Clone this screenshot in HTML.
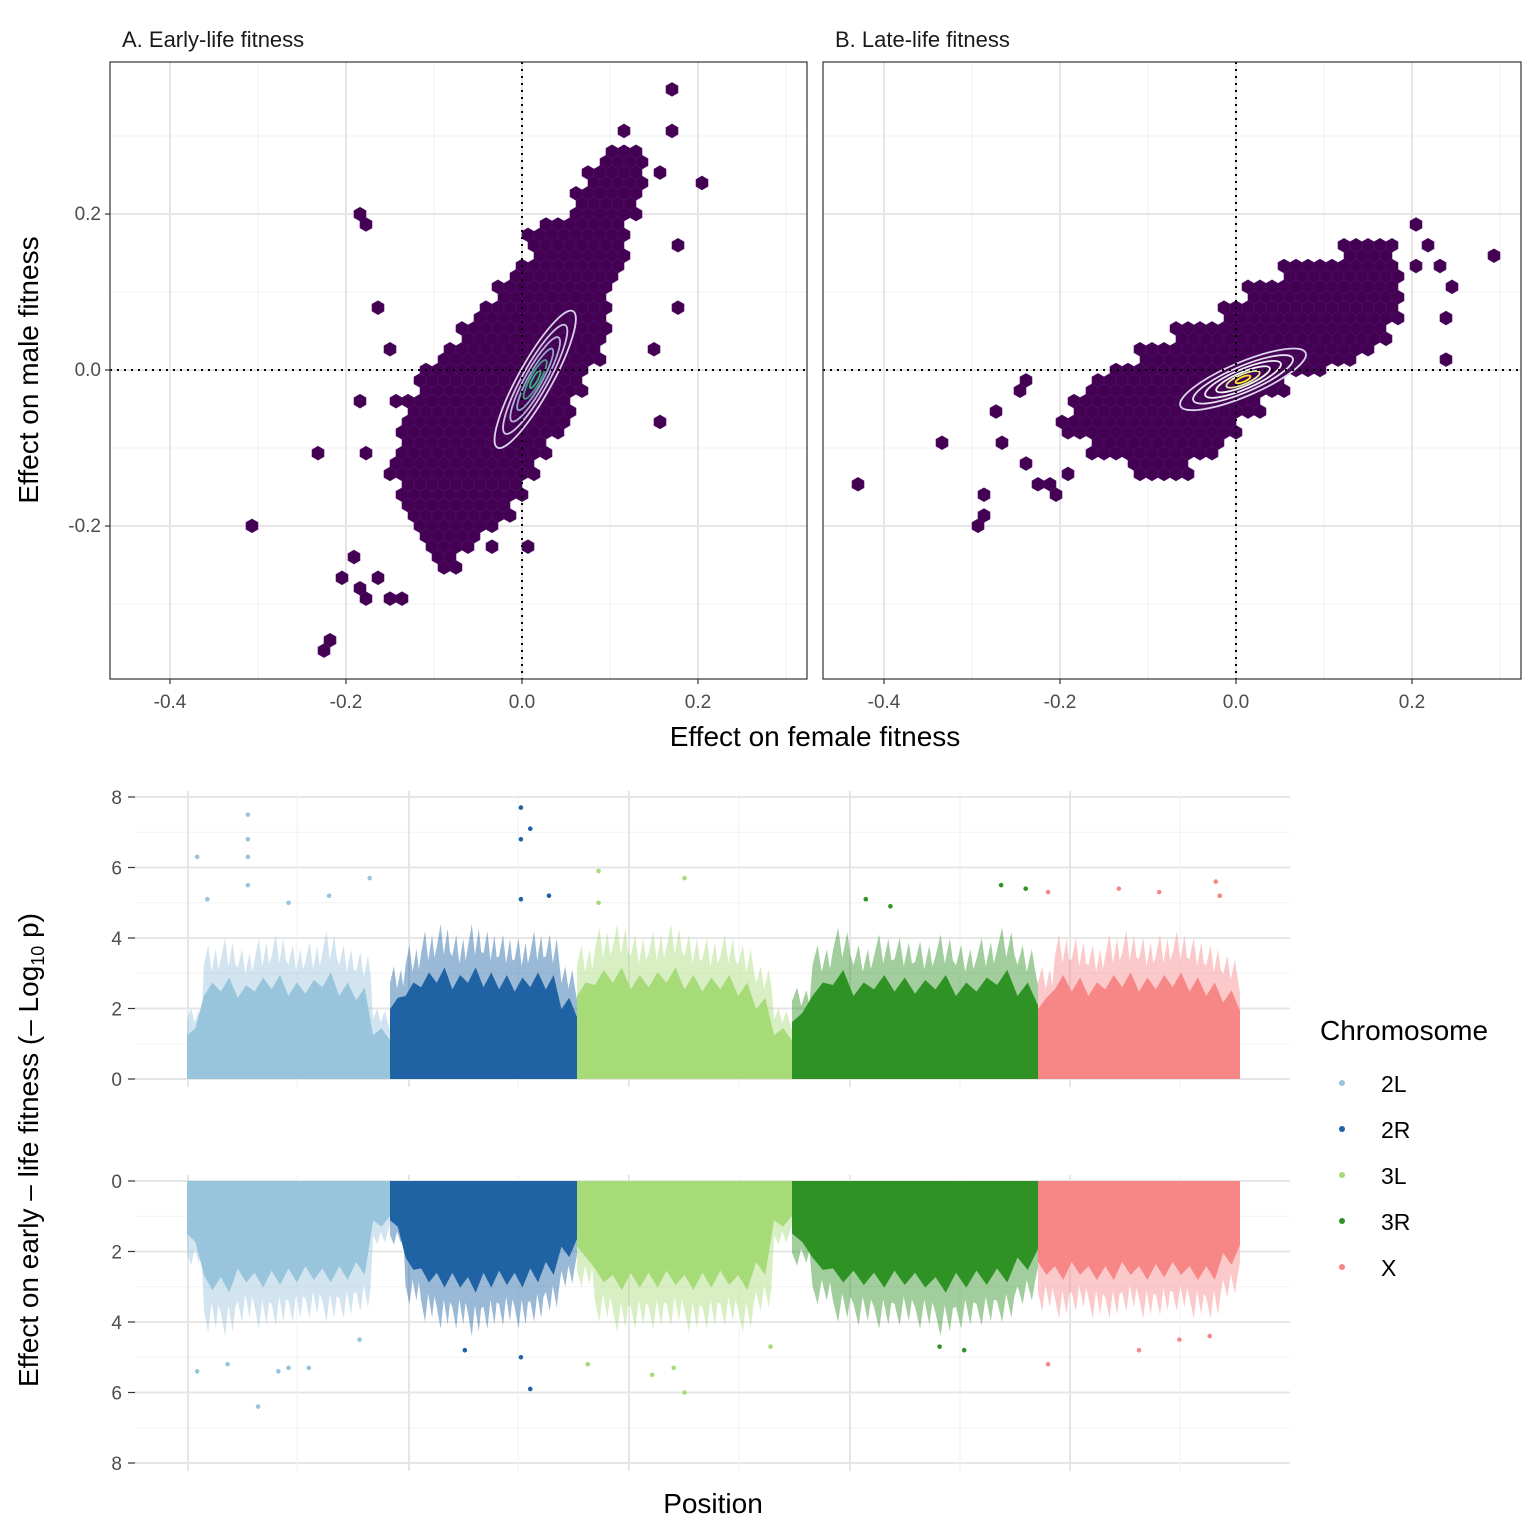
<!DOCTYPE html>
<html><head><meta charset="utf-8"><style>
html,body{margin:0;padding:0;background:#fff}
svg{display:block;font-family:"Liberation Sans",sans-serif}
</style></head><body>
<svg id="fig" width="1536" height="1536" viewBox="0 0 1536 1536">
<rect width="1536" height="1536" fill="#fff"/>
<g id="panA"></g>
<g id="panB"></g>
<g id="man"></g>
<text x="122" y="47" font-size="22" fill="#1a1a1a">A. Early-life fitness</text>
<text x="835" y="47" font-size="22" fill="#1a1a1a">B. Late-life fitness</text>
<text x="815" y="746" font-size="28" text-anchor="middle" fill="#000">Effect on female fitness</text>
<text transform="translate(38,370) rotate(-90)" font-size="28" text-anchor="middle" fill="#000">Effect on male fitness</text>
<text transform="translate(38,1150) rotate(-90)" font-size="28" text-anchor="middle" fill="#000">Effect on early – life fitness (– Log<tspan font-size="18" dy="6">10</tspan><tspan dy="-6"> p)</tspan></text>
<text x="713" y="1513" font-size="28" text-anchor="middle" fill="#000">Position</text>
<g id="legend">
<text x="1320" y="1040" font-size="28" fill="#000">Chromosome</text>
</g>
</svg>
<script>
// ---------- DATA ----------
const xTicks=[-0.4,-0.2,0.0,0.2];
const xTickLabels=["-0.4","-0.2","0.0","0.2"];
const yTicks=[-0.2,0.0,0.2];
const yTickLabels=["-0.2","0.0","0.2"];
const rowsA_y=[0.275,0.25,0.225,0.2,0.175,0.15,0.125,0.1,0.075,0.05,0.025,0.0,-0.025,-0.05,-0.075,-0.1,-0.125,-0.15,-0.175,-0.2,-0.225,-0.25];
const rowsA_min=[0.09,0.07,0.06,0.05,0.02,0.01,-0.01,-0.03,-0.05,-0.07,-0.09,-0.11,-0.12,-0.13,-0.14,-0.14,-0.15,-0.14,-0.13,-0.12,-0.11,-0.10];
const rowsA_max=[0.14,0.14,0.13,0.13,0.12,0.12,0.11,0.10,0.10,0.10,0.09,0.08,0.07,0.06,0.05,0.03,0.02,0.0,-0.01,-0.03,-0.05,-0.07];
const outA_x=[-0.305,-0.23,-0.22,-0.215,-0.21,-0.18,-0.175,-0.16,-0.15,-0.14,-0.19,-0.18,-0.175,-0.16,-0.155,-0.18,-0.15,-0.18,0.17,0.175,0.21,0.18,0.15,0.175,0.145,0.0,0.1,0.0,-0.04,0.12,0.16];
const outA_y=[-0.2,-0.1,-0.355,-0.345,-0.27,-0.28,-0.295,-0.265,-0.295,-0.295,-0.235,0.2,0.188,0.075,0.022,-0.037,-0.045,-0.11,0.36,0.3,0.235,0.16,-0.062,0.075,0.025,0.175,0.28,-0.22,-0.22,0.3,0.25];
const rowsB_y=[0.15,0.125,0.1,0.075,0.05,0.025,0.0,-0.025,-0.05,-0.075,-0.1,-0.125];
const rowsB_min=[0.12,0.05,0.01,-0.02,-0.07,-0.11,-0.14,-0.17,-0.19,-0.20,-0.17,-0.12];
const rowsB_max=[0.18,0.19,0.19,0.19,0.17,0.14,0.10,0.06,0.03,0.0,-0.02,-0.05];
const outB_x=[-0.43,-0.34,-0.29,-0.285,-0.28,-0.24,-0.245,-0.27,-0.27,-0.24,-0.23,-0.21,0.21,0.22,0.235,0.25,0.245,0.24,0.29,0.205,0.11,0.07,0.17,0.15,-0.19,-0.21];
const outB_y=[-0.15,-0.09,-0.2,-0.185,-0.16,-0.03,-0.01,-0.05,-0.09,-0.12,-0.15,-0.16,0.185,0.16,0.135,0.11,0.072,0.01,0.147,0.135,0.125,0.135,0.04,0.03,-0.13,-0.14];
const chroms=["2L","2R","3L","3R","X"];
const chromColors=["#98c4dc","#1f63a4","#a6db78","#2e9324","#f78787"];
const chromStart=[0,203,390,605,851];
const chromEnd=[203,390,605,851,1053];
const envTop=[[2.0,3.8,4.0,3.7,4.0,4.1,3.8,3.9,4.2,3.8,3.6,2.0],[3.2,3.8,4.2,4.4,4.1,4.4,4.2,4.1,4.0,4.2,4.1,3.2],[3.8,4.3,4.4,4.1,4.2,4.4,4.1,4.0,4.1,3.8,3.2,2.0],[2.6,3.8,4.3,3.8,4.1,4.0,3.9,4.1,3.8,4.0,4.3,3.8],[3.2,4.1,4.0,3.8,4.1,4.2,4.0,4.1,4.2,4.0,3.8,3.5]];
const envBot=[[2.4,4.3,4.4,4.0,4.2,4.1,4.0,3.9,4.0,3.9,3.7,1.8],[1.8,3.5,4.0,4.2,4.2,4.4,4.2,4.1,4.2,4.0,3.7,3.0],[3.0,4.0,4.3,4.2,4.2,4.1,4.3,4.2,4.1,4.3,3.7,1.8],[2.4,3.5,4.0,4.1,4.2,4.1,4.2,4.4,4.2,4.1,4.0,3.5],[3.7,3.9,3.7,3.9,3.9,3.7,3.9,3.8,3.7,3.9,3.9,3.3]];
const peakTop_c=[0,0,0,0,0,0,0,0,0,1,1,1,1,1,2,2,2,3,3,3,3,4,4,4,4,4];
const peakTop_f=[0.05,0.3,0.3,0.3,0.3,0.5,0.7,0.9,0.1,0.7,0.7,0.75,0.7,0.85,0.1,0.5,0.1,0.3,0.85,0.95,0.4,0.05,0.4,0.6,0.88,0.9];
const peakTop_v=[6.3,7.5,6.8,6.3,5.5,5.0,5.2,5.7,5.1,7.7,6.8,7.1,5.1,5.2,5.9,5.7,5.0,5.1,5.5,5.4,4.9,5.3,5.4,5.3,5.6,5.2];
const peakBot_c=[0,0,0,0,0,0,0,1,1,1,2,2,2,2,2,3,3,4,4,4,4];
const peakBot_f=[0.05,0.35,0.45,0.5,0.6,0.2,0.85,0.75,0.7,0.4,0.05,0.35,0.45,0.5,0.9,0.7,0.6,0.05,0.5,0.7,0.85];
const peakBot_v=[5.4,6.4,5.4,5.3,5.3,5.2,4.5,5.9,5.0,4.8,5.2,5.5,5.3,6.0,4.7,4.8,4.7,5.2,4.8,4.5,4.4];
const manTicks=[0,2,4,6,8];

// ---------- DRAW ----------
const NS="http://www.w3.org/2000/svg";
function mk(tag,attrs,parent){const e=document.createElementNS(NS,tag);for(const k in attrs)e.setAttribute(k,attrs[k]);parent.appendChild(e);return e;}

function panel(gid,x0,x1,zeroX,rY,rMin,rMax,oX,oY,contour,showY){
  const g=document.getElementById(gid);
  const yTop=62,yBot=679,zeroY=370,sx=880,sy=780;
  const X=v=>zeroX+v*sx, Y=v=>zeroY-v*sy;
  [-0.3,-0.1,0.1,0.3].forEach(v=>{const l=mk('line',{x1:X(v),x2:X(v),y1:yTop,y2:yBot,stroke:'#f2f2f2','stroke-width':1},g);});
  [-0.3,-0.1,0.1,0.3].forEach(v=>{const l=mk('line',{x1:x0,x2:x1,y1:Y(v),y2:Y(v),stroke:'#f2f2f2','stroke-width':1},g);});
  xTicks.forEach(v=>{const l=mk('line',{x1:X(v),x2:X(v),y1:yTop,y2:yBot,stroke:'#e6e6e6','stroke-width':2},g);});
  yTicks.forEach(v=>{const l=mk('line',{x1:x0,x2:x1,y1:Y(v),y2:Y(v),stroke:'#e6e6e6','stroke-width':2},g);});
  const w=12, r=w/Math.sqrt(3), dyp=1.5*r;
  const hex=(cx,cy)=>{let p=[];for(let k=0;k<6;k++){const a=Math.PI/180*(60*k+30);p.push((cx+r*Math.cos(a)).toFixed(1)+','+(cy+r*Math.sin(a)).toFixed(1));}
    const h=mk('polygon',{points:p.join(' '),fill:'#440154',stroke:'#4e1465','stroke-width':0.6},g);
    
    };
  const seen={};
  const jmin=Math.floor((Y(rY[0])-zeroY)/dyp), jmax=Math.ceil((Y(rY[rY.length-1])-zeroY)/dyp);
  for(let j=jmin;j<=jmax;j++){
    const cy=zeroY+j*dyp, yv=(zeroY-cy)/sy;
    let bi=0,bd=1e9;rY.forEach((v,i)=>{const d=Math.abs(v-yv);if(d<bd){bd=d;bi=i;}});
    if(bd>0.02)continue;
    const off=(Math.abs(j)%2)?w/2:0;
    const imin=Math.ceil((X(rMin[bi])-zeroX-off)/w), imax=Math.floor((X(rMax[bi])-zeroX-off)/w);
    for(let i=imin;i<=imax;i++){seen[j+'_'+i]=1;hex(zeroX+off+i*w,cy);}
  }
  oX.forEach((v,k)=>{const j=Math.round((Y(oY[k])-zeroY)/dyp);const off=(Math.abs(j)%2)?w/2:0;const i=Math.round((X(v)-zeroX-off)/w);if(seen[j+'_'+i])return;seen[j+'_'+i]=1;hex(zeroX+off+i*w,zeroY+j*dyp);});
  const [cxv,cyv,ang,rxs,rys,cols]=contour;
  rxs.forEach((rx,k)=>{const e=mk('ellipse',{cx:X(cxv),cy:Y(cyv),rx:rx,ry:rys[k],transform:`rotate(${ang} ${X(cxv)} ${Y(cyv)})`,fill:'none',stroke:cols[k],'stroke-width':1.8},g);});
  const z1=mk('line',{x1:X(0),x2:X(0),y1:yTop,y2:yBot,stroke:'#000','stroke-width':2,'stroke-dasharray':'2,5'},g);
  const z2=mk('line',{x1:x0,x2:x1,y1:zeroY,y2:zeroY,stroke:'#000','stroke-width':2,'stroke-dasharray':'2,5'},g);
  const b=mk('rect',{x:x0,y:yTop,width:x1-x0,height:yBot-yTop,fill:'none',stroke:'#333','stroke-width':1.2},g);
  xTicks.forEach((v,i)=>{mk('line',{x1:X(v),x2:X(v),y1:yBot,y2:yBot+5,stroke:'#333','stroke-width':1.2},g);
    const t=mk('text',{x:X(v),y:yBot+29,'font-size':19,'text-anchor':'middle',fill:'#4d4d4d'},g);t.textContent=xTickLabels[i];});
  if(showY)yTicks.forEach((v,i)=>{mk('line',{x1:x0-5,x2:x0,y1:Y(v),y2:Y(v),stroke:'#333','stroke-width':1.2},g);
    const t=mk('text',{x:x0-9,y:Y(v)+6,'font-size':19,'text-anchor':'end',fill:'#4d4d4d'},g);t.textContent=yTickLabels[i];});
}
panel('panA',110,807,522,rowsA_y,rowsA_min,rowsA_max,outA_x,outA_y,[0.015,-0.012,-61,[78,62,48,35,22,10],[17,13,10,7,5,2.5],['#d9d2e9','#cfc6e3','#b8b0d8','#8fa6c8','#4a9e8a','#35b779']],true);
panel('panB',823,1521,1236,rowsB_y,rowsB_min,rowsB_max,outB_x,outB_y,[0.008,-0.012,-23,[68,54,41,29,18,8],[17,13,10,7,5,2.5],['#d9d2e9','#e4e0ef','#eeeef5','#f3f7ef','#d8ec9a','#fde725']],false);

(function(){
  const g=document.getElementById('man');
  const px0=187, gx0=135, gx1=1290;
  const XP=p=>px0+p;
  const panels=[{zero:1079,dir:-1,env:envTop,pc:peakTop_c,pf:peakTop_f,pv:peakTop_v,nm:'top'},{zero:1181,dir:1,env:envBot,pc:peakBot_c,pf:peakBot_f,pv:peakBot_v,nm:'bottom'}];
  const s=35.25;
  panels.forEach(P=>{
    const Y=v=>P.zero+P.dir*v*s;
    [1,3,5,7].forEach(v=>{const l=mk('line',{x1:gx0,x2:gx1,y1:Y(v),y2:Y(v),stroke:'#f2f2f2','stroke-width':1},g);});
    manTicks.forEach(v=>{const l=mk('line',{x1:gx0,x2:gx1,y1:Y(v),y2:Y(v),stroke:'#e6e6e6','stroke-width':2},g);});
    const ya=Math.min(Y(0),Y(8)), yb=Math.max(Y(0),Y(8));
    [110,331,552,773,993].forEach(v=>{const l=mk('line',{x1:XP(v),x2:XP(v),y1:ya-6,y2:yb+8,stroke:'#f2f2f2','stroke-width':1},g);});
    [1,222,442,663,883].forEach(v=>{const l=mk('line',{x1:XP(v),x2:XP(v),y1:ya-6,y2:yb+8,stroke:'#e6e6e6','stroke-width':2},g);});
    manTicks.forEach(v=>{mk('line',{x1:128,x2:135,y1:Y(v),y2:Y(v),stroke:'#333','stroke-width':1.2},g);
      const t=mk('text',{x:122,y:Y(v)+7,'font-size':19,'text-anchor':'end',fill:'#4d4d4d'},g);t.textContent=String(v);});
    chroms.forEach((c,ci)=>{
      const a=chromStart[ci],b=chromEnd[ci],env=P.env[ci],n=env.length;
      let pts=[XP(a)+','+Y(0)];
      env.forEach((v,k)=>{const xa=XP(a+(b-a)*k/n),xb=XP(a+(b-a)*(k+1)/n);
        pts.push(xa+','+Y(v*0.85));pts.push((xa+(xb-xa)*0.25)+','+Y(v));pts.push((xa+(xb-xa)*0.45)+','+Y(v*0.8));pts.push((xa+(xb-xa)*0.7)+','+Y(v*0.97));pts.push((xa+(xb-xa)*0.85)+','+Y(v*0.82));});
      pts.push(XP(b)+','+Y(env[n-1]*0.7));pts.push(XP(b)+','+Y(0));
      const pl=mk('polygon',{points:pts.join(' '),fill:chromColors[ci],opacity:0.45},g);
      
      
      let pts2=[XP(a)+','+Y(0)];
      env.forEach((v,k)=>{const xa=XP(a+(b-a)*k/n),xb=XP(a+(b-a)*(k+1)/n);pts2.push(xa+','+Y(v*0.62));pts2.push(((xa+xb)/2)+','+Y(v*0.72));});
      pts2.push(XP(b)+','+Y(env[n-1]*0.55));pts2.push(XP(b)+','+Y(0));
      const pl2=mk('polygon',{points:pts2.join(' '),fill:chromColors[ci]},g);
      
      
    });
    P.pc.forEach((ci,k)=>{const a=chromStart[ci],b=chromEnd[ci];
      const d=mk('circle',{cx:XP(a+(b-a)*P.pf[k]),cy:Y(P.pv[k]),r:2.3,fill:chromColors[ci]},g);
      
      });
  });
  const lg=document.getElementById('legend');
  chroms.forEach((c,i)=>{const y=1083+i*46;
    const d=mk('circle',{cx:1342,cy:y,r:3,fill:chromColors[i]},lg);
    
    
    const t=mk('text',{x:1381,y:y+9,'font-size':23,fill:'#000'},lg);t.textContent=c;
    
    });
})();
</script>
</body></html>
